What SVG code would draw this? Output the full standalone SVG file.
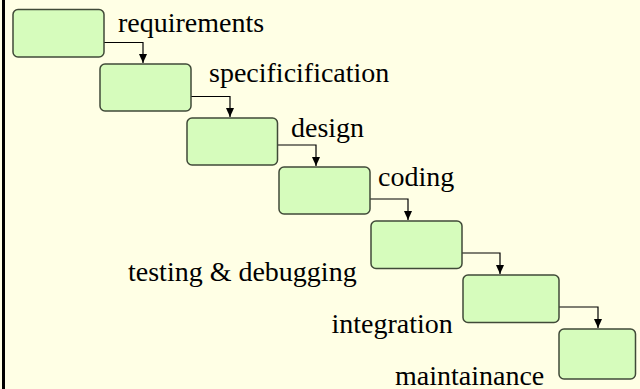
<svg xmlns="http://www.w3.org/2000/svg" width="640" height="389" viewBox="0 0 640 389">
<defs>
<style>
.box{fill:#d6fcbc;stroke:#404a38;stroke-width:1.5}
.lbl{font-family:'Liberation Serif','Times New Roman','DejaVu Serif',serif;font-size:28px;fill:#000}
.conn{fill:none;stroke:#000;stroke-width:1.2}
</style>
<marker id="ad" markerWidth="10" markerHeight="10" refX="5" refY="10" markerUnits="userSpaceOnUse" viewBox="0 0 10 10">
<path d="M1,1 L9,1 L5,10 Z" fill="#000"/>
</marker>
</defs>
<rect width="640" height="389" fill="#ffffe5"/>
<line x1="3.5" y1="0" x2="3.5" y2="389" stroke="#000" stroke-width="3"/>
<g id="connectors">
<path class="conn" d="M104,42.5 H143 V63" marker-end="url(#ad)"/>
<path class="conn" d="M191,96.5 H230 V117" marker-end="url(#ad)"/>
<path class="conn" d="M277.5,145 H316 V166" marker-end="url(#ad)"/>
<path class="conn" d="M370,199 H408 V220" marker-end="url(#ad)"/>
<path class="conn" d="M462,253 H500 V274" marker-end="url(#ad)"/>
<path class="conn" d="M559,307 H598 V328" marker-end="url(#ad)"/>
</g>
<g id="requirements">
<rect class="box" x="13" y="9.5" width="91" height="47.5" rx="5"/>
<text class="lbl" font-family="Liberation Serif, serif" x="118" y="32">requirements</text>
</g>
<g id="specification">
<rect class="box" x="100" y="64" width="91" height="47" rx="5"/>
<text class="lbl" font-family="Liberation Serif, serif" x="209" y="81.5">specificification</text>
</g>
<g id="design">
<rect class="box" x="187" y="118" width="90.5" height="47" rx="5"/>
<text class="lbl" font-family="Liberation Serif, serif" x="291" y="136.5">design</text>
</g>
<g id="coding">
<rect class="box" x="279" y="167" width="91" height="47" rx="5"/>
<text class="lbl" font-family="Liberation Serif, serif" x="378" y="186">coding</text>
</g>
<g id="testing">
<rect class="box" x="371" y="221" width="91" height="47.5" rx="5"/>
<text class="lbl" font-family="Liberation Serif, serif" x="128" y="281">testing &amp; debugging</text>
</g>
<g id="integration">
<rect class="box" x="463" y="275" width="96" height="47.5" rx="5"/>
<text class="lbl" font-family="Liberation Serif, serif" x="331.5" y="333">integration</text>
</g>
<g id="maintainance">
<rect class="box" x="559" y="329" width="76.5" height="50" rx="5"/>
<text class="lbl" font-family="Liberation Serif, serif" x="395" y="385">maintainance</text>
</g>
</svg>
